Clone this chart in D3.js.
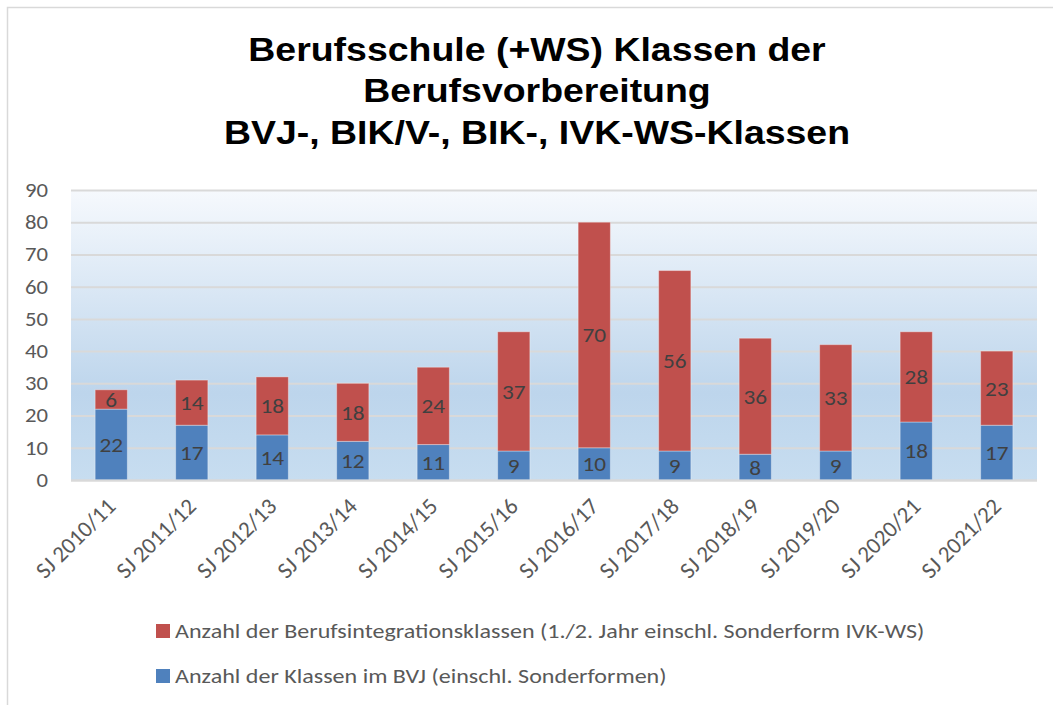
<!DOCTYPE html>
<html><head><meta charset="utf-8">
<script src="https://cdn.jsdelivr.net/npm/d3@7"></script>
<style>html,body{margin:0;padding:0;background:#fff;}svg{display:block;}</style>
</head><body>
<svg id="c" width="1053" height="705"></svg>
<script>
const categories = ["SJ 2010/11","SJ 2011/12","SJ 2012/13","SJ 2013/14","SJ 2014/15","SJ 2015/16","SJ 2016/17","SJ 2017/18","SJ 2018/19","SJ 2019/20","SJ 2020/21","SJ 2021/22"];
const bvj = [22,17,14,12,11,9,10,9,8,9,18,17];
const bik = [6,14,18,18,24,37,70,56,36,33,28,23];
const seriesNames = ["Anzahl der Klassen im BVJ (einschl. Sonderformen)","Anzahl der Berufsintegrationsklassen (1./2. Jahr einschl. Sonderform IVK-WS)"];
const seriesColors = ["#4f81bd","#c0504d"];
const yTicks = [0,10,20,30,40,50,60,70,80,90];
const titleLines = ["Berufsschule (+WS) Klassen der","Berufsvorbereitung","BVJ-, BIK/V-, BIK-, IVK-WS-Klassen"];

const svg = d3.select("#c");
const W = 1053, H = 705;
const plot = {l:71, r:1037, t:190, b:480};
const lblFont = "Carlito, Calibri, Lato, 'Open Sans', sans-serif";
const sx = 1.135;

// chart border
svg.append("rect").attr("x",7.5).attr("y",7.5).attr("width",W+20).attr("height",H+20)
  .attr("fill","#fff").attr("stroke","#d9d9d9").attr("stroke-width",1.5);

// gradient
const defs = svg.append("defs");
const g = defs.append("linearGradient").attr("id","bg").attr("x1",0).attr("y1",0).attr("x2",0).attr("y2",1);
g.append("stop").attr("offset","0%").attr("stop-color","#f6f9fd");
g.append("stop").attr("offset","70%").attr("stop-color","#bdd5ec");
g.append("stop").attr("offset","100%").attr("stop-color","#c7ddf0");

const x = d3.scaleBand().domain(categories).range([plot.l, plot.r]).paddingInner(0.6).paddingOuter(0.3);
const y = d3.scaleLinear().domain([0,90]).range([plot.b, plot.t]);

svg.append("rect").attr("x",plot.l).attr("y",plot.t).attr("width",plot.r-plot.l).attr("height",plot.b-plot.t)
  .attr("fill","url(#bg)");

// gridlines + y labels
const yAxis = d3.axisLeft(y).tickValues(yTicks).tickSize(-(plot.r-plot.l)).tickFormat(d3.format("d")).tickPadding(23);
const ya = svg.append("g").attr("transform",`translate(${plot.l},0)`).call(yAxis);
ya.select(".domain").remove();
ya.selectAll(".tick line").attr("stroke","#d9d9d9").attr("stroke-width",2);
ya.selectAll(".tick text").attr("fill","#595959").style("font-family",lblFont).style("font-size","20px")
  .attr("x",0).attr("transform",`translate(-23,0) scale(${sx},1)`);

// stacked bars
const rows = categories.map((c,i)=>({cat:c, bvj:bvj[i], bik:bik[i]}));
const stack = d3.stack().keys(["bvj","bik"])(rows);
const layers = svg.append("g").selectAll("g").data(stack).join("g").attr("fill",(d,i)=>seriesColors[i]);
layers.selectAll("rect").data(d=>d).join("rect")
  .attr("x",d=>x(d.data.cat)).attr("width",x.bandwidth())
  .attr("y",d=>y(d[1])).attr("height",d=>y(d[0])-y(d[1]))
  .attr("stroke","rgba(255,255,255,0.35)").attr("stroke-width",1);

// labels
const lab = svg.append("g");
stack.forEach(layer=>{
  layer.forEach(d=>{
    const cx = x(d.data.cat)+x.bandwidth()/2, cy = (y(d[0])+y(d[1]))/2;
    lab.append("text").attr("transform",`translate(${cx},${cy}) scale(${sx},1)`)
      .attr("dy","0.36em").attr("text-anchor","middle").attr("fill","#404040")
      .style("font-family",lblFont).style("font-size","20.5px").text(d[1]-d[0]);
  });
});

// x axis line
svg.append("line").attr("x1",plot.l).attr("x2",plot.r).attr("y1",plot.b+0.5).attr("y2",plot.b+0.5)
  .attr("stroke","#d9d9d9").attr("stroke-width",2);

// x labels
const xAxis = d3.axisBottom(x).tickSize(0).tickPadding(0);
const xa = svg.append("g").attr("transform",`translate(0,${plot.b})`).call(xAxis);
xa.select(".domain").remove();
xa.selectAll(".tick text")
  .attr("text-anchor","end").attr("fill","#595959")
  .style("font-family",lblFont).style("font-size","23px")
  .attr("transform","translate(0,22) rotate(-45)").attr("dy","0.35em").attr("y",0).attr("x",0);

// title
const t = svg.append("text").attr("transform",`translate(537,0) scale(${sx},1)`).attr("text-anchor","middle")
  .style("font-family","'Liberation Sans', Arial, sans-serif").style("font-weight","bold").style("font-size","33px").attr("fill","#000");
titleLines.forEach((s,i)=>t.append("tspan").attr("x",0).attr("y",61+i*41.5).text(s));

// legend (BIK first, then BVJ)
const legOrder = [1,0];
const leg = svg.append("g");
legOrder.forEach((si,k)=>{
  const yy = 631 + k*45;
  leg.append("rect").attr("x",156).attr("y",yy-7).attr("width",14).attr("height",14).attr("fill",seriesColors[si]);
  leg.append("text").attr("transform",`translate(175,${yy}) scale(1.146,1)`).attr("dy","0.35em").attr("fill","#595959")
    .style("font-family",lblFont).style("font-size","21px").text(seriesNames[si]);
});
</script>
</body></html>
